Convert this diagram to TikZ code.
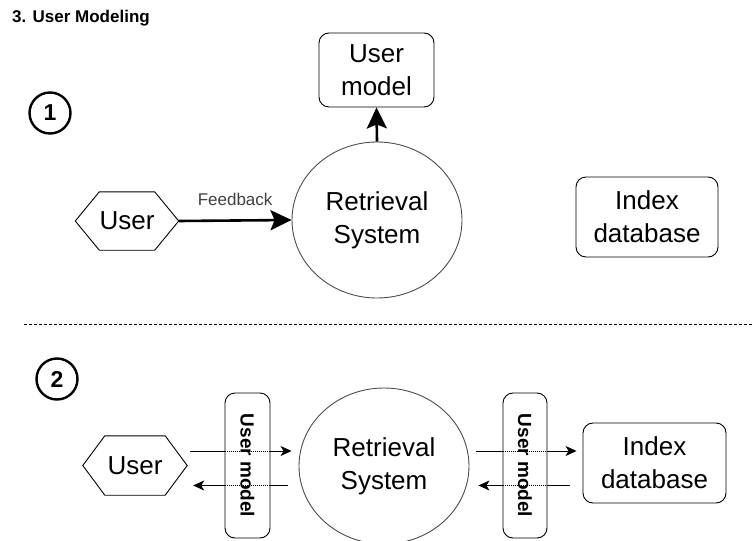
\documentclass[tikz,border=0pt]{standalone}
\usepackage{fontspec}
\setmainfont{Liberation Sans}
\usetikzlibrary{arrows.meta,shapes.geometric,calc}

\tikzset{
  x=1pt, y=-1pt,
  big/.style={font=\fontsize{26}{33}\selectfont, align=center},
  roundbox/.style={draw, line width=0.9pt, rounded corners=10pt, inner sep=0pt},
  sysnode/.style={draw=black!70, line width=0.9pt, ellipse, inner sep=0pt,
                  minimum width=170pt, minimum height=156pt},
  hexbase/.style={inner sep=0pt, minimum height=58pt, minimum width=103pt},
  numcirc/.style={draw, circle, line width=2.4pt, minimum size=41pt, inner sep=0pt,
                  font=\bfseries\fontsize{23}{23}\selectfont},
  fatarrow/.style={line width=2.6pt, -{Stealth[length=21pt, width=20pt, inset=4pt]}},
  thinarrow/.style={line width=0.8pt, -{Stealth[length=11pt, width=10pt, inset=3pt]}},
  behind/.style={line width=0.8pt, dash pattern=on 1pt off 1pt},
  vlabel/.style={rotate=-90, font=\bfseries\fontsize{19}{19}\selectfont}
}
\newcommand{\hexdraw}[2]{%
  \draw[line width=0.9pt] (#1.west) -- ([xshift=#2]#1.north west) -- ([xshift=-#2]#1.north east)
    -- (#1.east) -- ([xshift=-#2]#1.south east) -- ([xshift=#2]#1.south west) -- cycle;}

\begin{document}
\begin{tikzpicture}
\useasboundingbox (0,0) rectangle (753,541);

% heading
\node[anchor=base west, inner sep=0pt, font=\bfseries\fontsize{17}{17}\selectfont] (title) at (12,22) {3. User Modeling};

% ---------- part 1 ----------
\node[numcirc] (num1) at (50,113) {1};
\node[roundbox, big, minimum width=115pt, minimum height=74pt] (um1) at (376.5,70) {User\\model};
\node[sysnode, big] (rs1) at (377,220) {Retrieval\\System};
\node[hexbase, big] (user1) at (127,221) {User};
\hexdraw{user1}{24pt}
\node[roundbox, big, minimum width=142pt, minimum height=80pt] (idx1) at (647,217) {Index\\database};

\draw[fatarrow] (user1.east) -- node[above=10pt, font=\fontsize{17}{17}\selectfont, text=black!75] (fb) {Feedback} (rs1.west);
\draw[fatarrow] (rs1.north) -- (um1.south);

% separator
\coordinate (sepL) at (24,324);
\coordinate (sepR) at (753,324);
\draw[line width=1pt, dash pattern=on 3pt off 2pt] (sepL) -- (sepR);

% ---------- part 2 ----------
\node[numcirc] (num2) at (57,379) {2};
\node[hexbase, big, minimum width=104pt, minimum height=59pt] (user2) at (135,465.5) {User};
\hexdraw{user2}{22pt}
\node[sysnode, big] (rs2) at (384,466) {Retrieval\\System};
\node[roundbox, big, minimum width=143pt, minimum height=80pt] (idx2) at (654.5,463) {Index\\database};

% message arrows
\draw[thinarrow] ([shift={(3,-14.5)}]user2.east) -- ([shift={(-7,-15)}]rs2.west);
\draw[thinarrow] ([shift={(-11,19.5)}]rs2.west) -- ([shift={(6,20)}]user2.east);
\draw[thinarrow] ([shift={(7,-15)}]rs2.east) -- ([shift={(-6,-12)}]idx2.west);
\draw[thinarrow] ([shift={(-13,22.5)}]idx2.west) -- ([shift={(9,19.5)}]rs2.east);

% user model filters laid over the arrows
\node[roundbox, fill=white, minimum width=45pt, minimum height=145pt] (umA) at (247.5,465.5) {};
\node[roundbox, fill=white, minimum width=44pt, minimum height=145pt] (umB) at (525,465.5) {};
\draw[behind] ([shift={(0,-14.5)}]umA.west) -- ([shift={(0,-14.5)}]umA.east);
\draw[behind] ([shift={(0,20)}]umA.west) -- ([shift={(0,20)}]umA.east);
\draw[behind] ([shift={(0,-14.5)}]umB.west) -- ([shift={(0,-14.5)}]umB.east);
\draw[behind] ([shift={(0,20)}]umB.west) -- ([shift={(0,20)}]umB.east);
\node[vlabel] (umAtext) at (umA.center) {User model};
\node[vlabel] (umBtext) at (umB.center) {User model};
\end{tikzpicture}
\end{document}
